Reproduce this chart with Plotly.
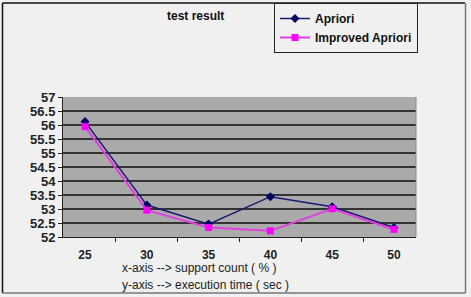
import plotly.graph_objects as go

support = ["25", "30", "35", "40", "45", "50"]
apriori = [56.12, 53.14, 52.46, 53.44, 53.08, 52.34]
improved = [55.94, 52.96, 52.34, 52.22, 53.01, 52.27]
y_ticks = [52, 52.5, 53, 53.5, 54, 54.5, 55, 55.5, 56, 56.5, 57]

fig = go.Figure()
fig.add_trace(go.Scatter(x=support, y=apriori, name="<b>Apriori</b>", mode="lines+markers",
                         line=dict(color="#1a1a6e", width=1.5),
                         marker=dict(symbol="diamond", size=7, color="#000066")))
fig.add_trace(go.Scatter(x=support, y=improved, name="<b>Improved Apriori</b>", mode="lines+markers",
                         line=dict(color="#e040e0", width=2),
                         marker=dict(symbol="square", size=7, color="#ff00ff")))

L, R, T, B = 63, 416, 97, 237
W, H = 471, 297
pw, ph = R - L, B - T
def px(x): return (x - L) / pw
def py(y): return (B - y) / ph

fig.update_layout(
    width=W, height=H,
    margin=dict(l=L, r=W - R, t=T, b=H - B, autoexpand=False),
    paper_bgcolor="#f0f0f0", plot_bgcolor="#aaaaaa",
    showlegend=True,
    legend=dict(x=px(274), y=py(3), xanchor="left", yanchor="top",
                bgcolor="#f0f0f0", bordercolor="#222", borderwidth=1,
                font=dict(family="Liberation Sans, Arial", size=12, color="#111"),
                tracegroupgap=0, itemwidth=30),
    font=dict(family="Liberation Sans, Arial", color="#111"),
)
fig.update_xaxes(type="category", tickson="boundaries", ticks="outside", ticklen=4,
                 tickcolor="#222", showline=True, linecolor="#222", linewidth=1,
                 showgrid=False, ticklabelstandoff=7,
                 tickfont=dict(family="Liberation Sans, Arial", size=12, color="#222", weight="bold"))
fig.update_yaxes(range=[52, 57], tickvals=y_ticks, ticktext=[f"{v:g}" for v in y_ticks],
                 ticks="outside", ticklen=4, tickcolor="#222",
                 showline=True, linecolor="#222", linewidth=1,
                 showgrid=True, gridcolor="#333333", gridwidth=1.5, zeroline=False,
                 tickfont=dict(family="Liberation Sans, Arial", size=13, color="#222", weight="bold"))

fig.add_annotation(text="<b>test result</b>", xref="paper", yref="paper",
                   x=px(165), y=py(16), xanchor="left", yanchor="middle", showarrow=False,
                   font=dict(size=12, color="#111"))
fig.add_annotation(text="x-axis --> support count ( % )", xref="paper", yref="paper",
                   x=px(120), y=py(268), xanchor="left", yanchor="middle", showarrow=False,
                   font=dict(size=12, color="#222"))
fig.add_annotation(text="y-axis --> execution time ( sec )", xref="paper", yref="paper",
                   x=px(120), y=py(285), xanchor="left", yanchor="middle", showarrow=False,
                   font=dict(size=12, color="#222"))
# plot right edge
fig.add_shape(type="line", xref="paper", yref="paper", x0=1, x1=1, y0=0, y1=1,
              line=dict(color="#888", width=1))
# outer chart border
fig.add_shape(type="line", xref="paper", yref="paper", x0=px(2.5), x1=px(465), y0=py(3), y1=py(3),
              line=dict(color="#111", width=1.5))
fig.add_shape(type="line", xref="paper", yref="paper", x0=px(2.5), x1=px(2.5), y0=py(3), y1=py(293),
              line=dict(color="#111", width=1.5))
fig.add_shape(type="line", xref="paper", yref="paper", x0=px(465.5), x1=px(465.5), y0=py(3), y1=py(293),
              line=dict(color="#777", width=1.5))
fig.add_shape(type="line", xref="paper", yref="paper", x0=px(2.5), x1=px(465.5), y0=py(293), y1=py(293),
              line=dict(color="#777", width=1.5))

fig.write_html("out.html", config={"displayModeBar": False},
               post_script="document.body.style.margin='0';")
